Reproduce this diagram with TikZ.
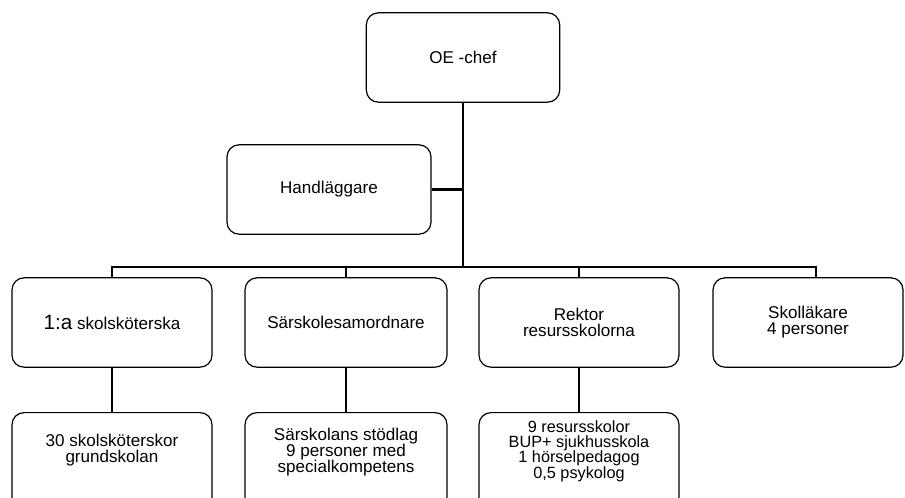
\documentclass[tikz,border=0pt]{standalone}
\usepackage{fontspec}
\setmainfont{Liberation Sans}
\begin{document}
\begin{tikzpicture}[x=0.75pt,y=-0.75pt]

        \tikzstyle{box} = [draw, rounded corners=9pt, line width=0.9pt, align=center, minimum height=67pt, inner sep=2pt, font=\fontsize{12.8}{12}\selectfont]
        \tikzstyle{lowbox} = [box, minimum height=82.5pt, anchor=north]
        \tikzstyle{boxtext} = [align=center, font=\fontsize{12.8}{12}\selectfont]
        \tikzstyle{link} = [draw, line width=2.2pt]

        \useasboundingbox (0,0) rectangle (905,497);
        \clip (0,0) rectangle (905,497);

        \node[box, minimum width=145pt] (chef) at (463,57.5) {OE -chef};
        \node[box, minimum width=153pt] (handl) at (329,189.5) {Handläggare};

        \node[box, minimum width=150pt] (skot) at (112,322.5) {{\fontsize{15.5}{15}\selectfont 1:a} skolsköterska};
        \node[box, minimum width=151.5pt] (samord) at (346,322.5) {Särskolesamordnare};
        \node[box, minimum width=150pt] (rektor) at (579,322.5) {Rektor\\resursskolorna};
        \node[box, minimum width=142.5pt] (lakare) at (808,322.5) {Skolläkare\\4 personer};

        \node[lowbox, minimum width=150pt] (grund) at (112,412) {};
        \node[lowbox, minimum width=151.5pt] (stod) at (346,412) {};
        \node[lowbox, minimum width=150pt] (resurs) at (579,412) {};
        \node[boxtext] (grundtxt) at (112,450) {30 skolsköterskor\\grundskolan};
        \node[boxtext] (stodtxt) at (346,452) {Särskolans stödlag\\9 personer med\\specialkompetens};
        \node[boxtext, font=\fontsize{12.2}{11.4}\selectfont] (resurstxt) at (579,451) {9 resursskolor\\BUP+ sjukhusskola\\1 hörselpedagog\\0,5 psykolog};

        \coordinate (bus) at (463,267);
        \coordinate (busend) at (816,267);

        \draw[link] (chef.south) -- (bus);
        \draw[link] (handl.east) -- (handl.east -| bus);
        \draw[link] (skot.north) |- (busend) -- (lakare.north -| busend);
        \draw[link] (samord.north |- bus) -- (samord.north);
        \draw[link] (rektor.north |- bus) -- (rektor.north);

        \draw[link] (skot.south) -- (grund.north);
        \draw[link] (samord.south) -- (stod.north);
        \draw[link] (rektor.south) -- (resurs.north);

\end{tikzpicture}
\end{document}
